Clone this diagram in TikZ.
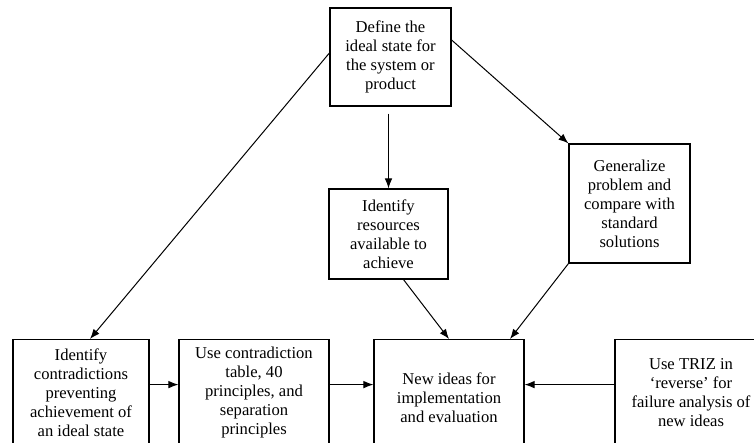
\documentclass[tikz,border=0pt]{standalone}
\usepackage{fontspec}
\setmainfont{Liberation Serif}
\usetikzlibrary{arrows.meta,positioning,calc}

\begin{document}
\begin{tikzpicture}[
        x=0.5pt, y=-0.5pt,
        box/.style = {rectangle, draw, line width=0.6pt, align=center, inner sep=0pt, font=\fontsize{8.3}{9.5}\selectfont},
        rowbox/.style = {box, anchor=north, minimum height=53pt},
        line/.style = {draw, line width=0.5pt, -{Latex[length=5pt,width=3.8pt]}}
    ]
        \useasboundingbox (0,0) rectangle (754,443);
        \clip (0,0) rectangle (754,443);

        % Place nodes
        \node [box, minimum width=60.5pt, minimum height=49pt] at (390.5,57) (define) {Define the\\ ideal state for\\ the system or\\ product};
        \node [box, minimum width=59.5pt, minimum height=45pt] at (388.5,234) (resources) {Identify\\ resources\\ available to\\ achieve};
        \node [box, minimum width=60.5pt, minimum height=59.5pt] at (629.5,203.5) (general) {Generalize\\ problem and\\ compare with\\ standard\\ solutions};

        \node [rowbox, minimum width=68pt] at (81,339) (contra) {Identify\\ contradictions\\ preventing\\ achievement of\\ an ideal state};
        \node [rowbox, minimum width=75pt] at (254,339) (table) {Use contradiction\\ table, 40\\ principles, and\\ separation\\ principles};
        \node [rowbox, minimum width=75pt, minimum height=58pt] at (449,339) (ideas) {New ideas for\\ implementation\\ and evaluation};
        \node [rowbox, minimum width=76pt] at (691,339) (triz) {Use TRIZ in\\ `reverse' for\\ failure analysis of\\ new ideas};

        % Draw edges
        \draw [line] ($(define.west) + (0,-4)$) -- ($(contra.north) + (9,0)$);
        \draw [line, shorten <=3.5pt] (resources.north |- define.south) -- (resources.north);
        \draw [line] ($(define.east) + (0,-17)$) -- (general.north west);
        \draw [line] ($(resources.south) + (15,0)$) -- (ideas.north);
        \draw [line] (general.south west) -- ($(ideas.north) + (61,0)$);
        \draw [line] ($(contra.east) + (0,-8)$) -- ($(table.west) + (0,-8)$);
        \draw [line] ($(table.east) + (0,-8)$) -- ($(ideas.west) + (0,-13)$);
        \draw [line] ($(triz.west) + (0,-8)$) -- ($(ideas.east) + (0,-13)$);

    \end{tikzpicture}
\end{document}
